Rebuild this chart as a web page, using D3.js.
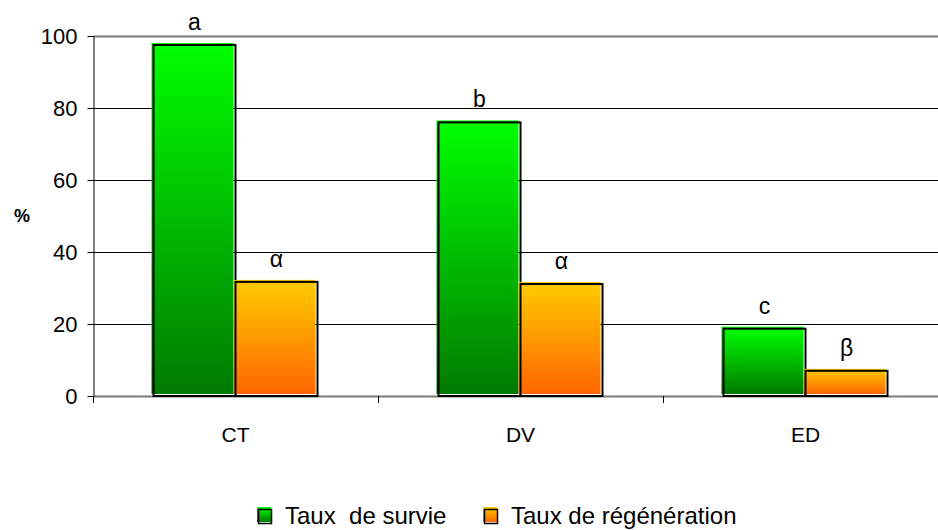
<!DOCTYPE html>
<html>
<head>
<meta charset="utf-8">
<script src="https://cdn.jsdelivr.net/npm/d3@7"></script>
<style>
  html, body { margin: 0; padding: 0; background: #fff; }
  svg { display: block; font-family: "Liberation Sans", Arial, sans-serif; }
</style>
</head>
<body>
<div id="chart"></div>
<script>
(function () {
  // ---- data ----
  const categories = ["CT", "DV", "ED"];
  const series = ["Taux  de survie", "Taux de régénération"];
  const survie = [97.5, 76, 18.7];
  const regeneration = [31.7, 31.1, 7.0];
  const survieLetters = ["a", "b", "c"];
  const regenLetters = ["α", "α", "β"];
  const yTicks = [0, 20, 40, 60, 80, 100];

  const rows = categories.map((c, i) => ({
    cat: c,
    values: [
      { s: 0, v: survie[i], lab: survieLetters[i] },
      { s: 1, v: regeneration[i], lab: regenLetters[i] }
    ]
  }));

  // ---- setup ----
  const W = 938, H = 530;
  const plot = { left: 93, right: 948, top: 36, bottom: 396 };

  const svg = d3.select("#chart").append("svg")
    .attr("width", W)
    .attr("height", H);

  const defs = svg.append("defs");
  const grads = [
    { id: "gGreen", top: "#00ff00", bottom: "#007a00" },
    { id: "gOrange", top: "#ffcc00", bottom: "#ff6600" }
  ];
  grads.forEach(g => {
    const lg = defs.append("linearGradient")
      .attr("id", g.id)
      .attr("x1", 0).attr("y1", 0).attr("x2", 0).attr("y2", 1);
    lg.append("stop").attr("offset", "0%").attr("stop-color", g.top);
    lg.append("stop").attr("offset", "100%").attr("stop-color", g.bottom);
  });

  const x = d3.scaleBand()
    .domain(categories)
    .range([plot.left, plot.right])
    .padding(0);

  const groupW = 164;
  const xs = d3.scaleBand()
    .domain([0, 1])
    .range([(x.bandwidth() - groupW) / 2, (x.bandwidth() + groupW) / 2])
    .padding(0);

  const y = d3.scaleLinear()
    .domain([0, 100])
    .range([plot.bottom, plot.top]);

  // ---- gridlines ----
  svg.append("g")
    .selectAll("line")
    .data(yTicks)
    .join("line")
    .attr("x1", plot.left)
    .attr("x2", plot.right)
    .attr("y1", d => Math.round(y(d)) + 0.5)
    .attr("y2", d => Math.round(y(d)) + 0.5)
    .attr("stroke", d => (d === 0 || d === 100) ? "#7a7a7a" : "#000")
    .attr("stroke-width", d => (d === 0 || d === 100) ? 2 : 1);

  // ---- y axis ----
  const yAxis = svg.append("g")
    .attr("transform", `translate(${plot.left + 0.5},0)`)
    .call(d3.axisLeft(y).tickValues(yTicks).tickSize(6).tickPadding(10).tickSizeOuter(0));
  yAxis.select(".domain").attr("stroke", "#000");
  yAxis.selectAll(".tick line").attr("stroke", "#000");
  yAxis.selectAll("text")
    .attr("font-size", 22)
    .attr("font-family", "Liberation Sans, Arial, sans-serif")
    .attr("fill", "#000");
  // axis extends slightly below zero
  svg.append("line")
    .attr("x1", plot.left + 0.5).attr("x2", plot.left + 0.5)
    .attr("y1", plot.bottom).attr("y2", plot.bottom + 7)
    .attr("stroke", "#000");

  // ---- x axis (tick marks between categories) ----
  const xAxis = svg.append("g")
    .attr("transform", `translate(0,${plot.bottom})`)
    .call(d3.axisBottom(x).tickSize(0).tickPadding(0).tickSizeOuter(0));
  xAxis.select(".domain").remove();
  xAxis.selectAll("text")
    .attr("dy", null)
    .attr("y", 46)
    .attr("font-size", 21)
    .attr("font-family", "Liberation Sans, Arial, sans-serif")
    .attr("fill", "#000");
  svg.append("g")
    .selectAll("line")
    .data(categories.slice(1))
    .join("line")
    .attr("x1", d => Math.round(x(d)) + 0.5)
    .attr("x2", d => Math.round(x(d)) + 0.5)
    .attr("y1", plot.bottom)
    .attr("y2", plot.bottom + 7)
    .attr("stroke", "#000");

  // ---- bars ----
  const fills = ["url(#gGreen)", "url(#gOrange)"];
  const groups = svg.append("g")
    .selectAll("g")
    .data(rows)
    .join("g")
    .attr("transform", d => `translate(${x(d.cat)},0)`);

  const bars = groups.selectAll("g.bar")
    .data(d => d.values)
    .join("g")
    .attr("class", "bar");

  // fill, offset up-left like the original
  bars.append("rect")
    .attr("x", d => xs(d.s) - 2)
    .attr("y", d => y(d.v) - 2)
    .attr("width", xs.bandwidth())
    .attr("height", d => y(0) - y(d.v))
    .attr("fill", d => fills[d.s]);

  // black outline
  bars.append("rect")
    .attr("x", d => xs(d.s))
    .attr("y", d => y(d.v))
    .attr("width", xs.bandwidth())
    .attr("height", d => y(0) - y(d.v))
    .attr("fill", "none")
    .attr("stroke", "#000")
    .attr("stroke-width", 2);

  // significance letters
  bars.append("text")
    .attr("x", d => xs(d.s) + xs.bandwidth() / 2)
    .attr("y", d => y(d.v) - 15)
    .attr("text-anchor", "middle")
    .attr("font-size", 23)
    .attr("fill", "#000")
    .text(d => d.lab);

  // ---- y label ----
  svg.append("text")
    .attr("x", 22)
    .attr("y", 222)
    .attr("text-anchor", "middle")
    .attr("font-size", 18)
    .attr("font-weight", "bold")
    .text("%");

  // ---- legend ----
  const legendX = [258, 484];
  const legend = svg.append("g")
    .selectAll("g")
    .data(series)
    .join("g")
    .attr("transform", (d, i) => `translate(${legendX[i]},509)`);

  legend.append("rect")
    .attr("x", -1).attr("y", -2)
    .attr("width", 14).attr("height", 15)
    .attr("fill", (d, i) => fills[i]);
  legend.append("rect")
    .attr("x", 0.5).attr("y", 0.5)
    .attr("width", 13).attr("height", 14)
    .attr("fill", "none")
    .attr("stroke", "#000")
    .attr("stroke-width", 1.5);
  legend.append("text")
    .attr("x", 27)
    .attr("y", 15)
    .attr("font-size", 24)
    .attr("fill", "#000")
    .style("white-space", "pre")
    .attr("xml:space", "preserve")
    .text(d => d);
})();
</script>
</body>
</html>
